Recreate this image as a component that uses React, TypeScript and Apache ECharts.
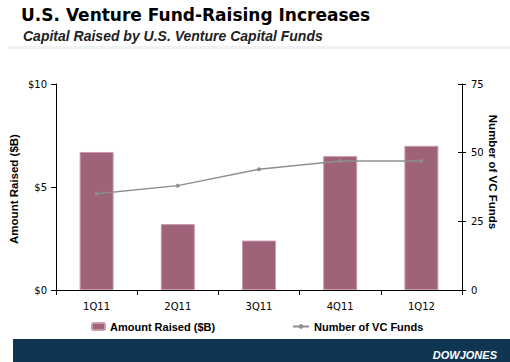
import React, { useEffect, useRef } from "react";
import * as echarts from "echarts";

const categories = ["1Q11", "2Q11", "3Q11", "4Q11", "1Q12"];
const amountRaised = [6.7, 3.2, 2.4, 6.5, 7.0];
const numberOfFunds = [35, 38, 44, 47, 47];
const leftTicks = { min: 0, max: 10, interval: 5 };
const rightTicks = { min: 0, max: 75, interval: 25 };

export default function App() {
  const ref = useRef<HTMLDivElement>(null);
  useEffect(() => {
    document.body.style.margin = "0";
    const chart = echarts.init(ref.current!, null, { renderer: "svg" });
    const axisFont = { fontFamily: "DejaVu Sans", fontSize: 10, color: "#000" };
    chart.setOption({
      animation: false,
      backgroundColor: "#fff",
      title: [
        {
          text: "U.S. Venture Fund-Raising Increases",
          left: 16,
          top: 1,
          textStyle: { fontFamily: "DejaVu Sans", fontWeight: "bold", fontSize: 17, color: "#000" },
        },
        {
          text: "Capital Raised by U.S. Venture Capital Funds",
          left: 18,
          top: 24,
          textStyle: {
            fontFamily: "Liberation Sans",
            fontWeight: "bold",
            fontStyle: "italic",
            fontSize: 14,
            color: "#222",
          },
        },
      ],
      grid: { left: 56, right: 48, top: 84, bottom: 72 },
      legend: [
        {
          data: ["Amount Raised ($B)"],
          left: 86,
          top: 316,
          itemWidth: 13,
          itemHeight: 7,
          textStyle: { fontFamily: "Liberation Sans", fontWeight: "bold", fontSize: 11, color: "#000" },
        },
        {
          data: ["Number of VC Funds"],
          left: 287,
          top: 316,
          itemWidth: 16,
          itemHeight: 6,
          textStyle: { fontFamily: "Liberation Sans", fontWeight: "bold", fontSize: 11, color: "#000" },
        },
      ],
      xAxis: {
        type: "category",
        data: categories,
        axisLine: { lineStyle: { color: "#000", width: 1 } },
        axisTick: { show: true, length: 5, lineStyle: { color: "#000" } },
        axisLabel: { ...axisFont, margin: 11 },
      },
      yAxis: [
        {
          type: "value",
          position: "left",
          ...leftTicks,
          splitLine: { show: false },
          axisLine: { show: true, lineStyle: { color: "#000" } },
          axisTick: { show: true, length: 5, lineStyle: { color: "#000" } },
          axisLabel: { ...axisFont, margin: 9, formatter: (v: number) => "$" + v },
        },
        {
          type: "value",
          position: "right",
          ...rightTicks,
          splitLine: { show: false },
          axisLine: { show: true, lineStyle: { color: "#000" } },
          axisTick: { show: true, length: 4, lineStyle: { color: "#000" } },
          axisLabel: { ...axisFont, margin: 9 },
        },
        {
          type: "value",
          position: "right",
          ...rightTicks,
          splitLine: { show: false },
          axisLine: { show: false },
          axisTick: { show: true, inside: true, length: 4, lineStyle: { color: "#000" } },
          axisLabel: { show: false },
        },
      ],
      series: [
        {
          name: "Amount Raised ($B)",
          type: "bar",
          data: amountRaised,
          barWidth: 34,
          yAxisIndex: 0,
          itemStyle: { color: "#9e6378", borderColor: "#c99aad", borderWidth: 1 },
        },
        {
          name: "Number of VC Funds",
          type: "line",
          data: numberOfFunds,
          yAxisIndex: 1,
          symbol: "circle",
          symbolSize: 4,
          lineStyle: { color: "#8e8e8e", width: 1.5 },
          itemStyle: { color: "#8e8e8e" },
        },
      ],
      graphic: [
        { type: "rect", left: 8, top: 46, shape: { width: 502, height: 3 }, style: { fill: "#f2f2f2" } },
        {
          type: "text",
          x: 14,
          y: 189,
          rotation: Math.PI / 2,
          style: {
            text: "Amount Raised ($B)",
            align: "center",
            verticalAlign: "middle",
            font: "bold 11.5px 'Liberation Sans'",
            fill: "#000",
          },
        },
        {
          type: "text",
          x: 493,
          y: 172,
          rotation: -Math.PI / 2,
          style: {
            text: "Number of VC Funds",
            align: "center",
            verticalAlign: "middle",
            font: "bold 11.5px 'Liberation Sans'",
            fill: "#000",
          },
        },
        { type: "rect", shape: { x: 13, y: 339, width: 497, height: 23 }, style: { fill: "#0e3552" } },
        {
          type: "text",
          x: 497,
          y: 355,
          style: {
            text: "DOWJONES",
            align: "right",
            verticalAlign: "middle",
            font: "italic bold 11px 'Liberation Sans'",
            fill: "#fff",
          },
        },
      ],
    });
    return () => chart.dispose();
  }, []);
  return <div ref={ref} style={{ width: 510, height: 362 }} />;
}
